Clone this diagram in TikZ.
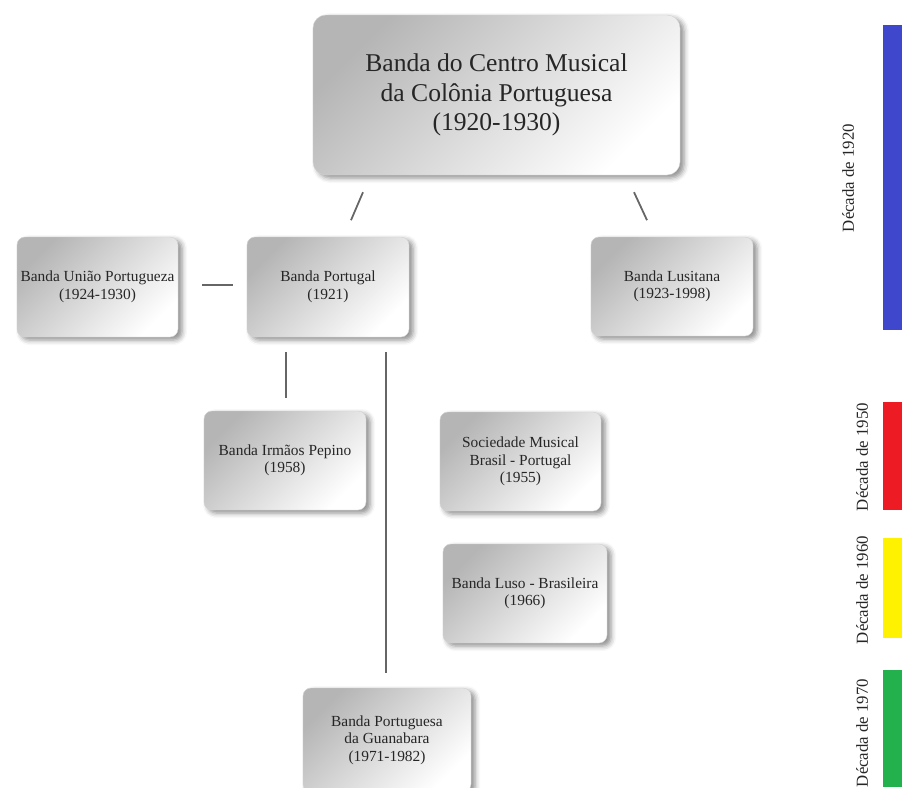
\documentclass[tikz,border=0pt]{standalone}
\usepackage{fontspec}
\setmainfont{Liberation Serif}
\usetikzlibrary{positioning, calc, shadows.blur}
\definecolor{barazul}{HTML}{3F48CC}
\definecolor{barvermelho}{HTML}{ED1C24}
\definecolor{baramarelo}{HTML}{FFF200}
\definecolor{barverde}{HTML}{22B14C}
\tikzset{x=1pt,y=-1pt,
banda/.style={draw=gray!35, rounded corners=8pt, top color=gray!58, bottom color=white, shading angle=45,
  minimum width=162pt, minimum height=100pt, align=center, text=black!85,
  font=\fontsize{15.4}{17.5}\selectfont,
  blur shadow={shadow xshift=4pt, shadow yshift=-3pt, shadow blur radius=5pt, shadow opacity=45}},
ligacao/.style={draw=black!60, line width=1.8pt},
decada/.style={rotate=90, font=\fontsize{16.8}{18}\selectfont, text=black!85}}

\begin{document}
\begin{tikzpicture}
\useasboundingbox (0,0) rectangle (902,787);
\node[banda, minimum width=367pt, minimum height=160pt, rounded corners=13pt, font=\fontsize{25.6}{29.5}\selectfont] (centro) at (496.5,95) {Banda do Centro Musical\\da Colônia Portuguesa\\(1920-1930)};
\node[banda, minimum width=161pt] (uniao) at (97.5,287) {Banda União Portugueza\\(1924-1930)};
\node[banda] (portugal) at (328,287) {Banda Portugal\\(1921)};
\node[banda, minimum height=99pt] (lusitana) at (672,286.5) {Banda Lusitana\\(1923-1998)};
\node[banda, minimum height=99pt] (pepino) at (285,460.5) {Banda Irmãos Pepino\\(1958)};
\node[banda, minimum width=161pt, minimum height=99pt] (sociedade) at (520.5,461.5) {Sociedade Musical\\Brasil - Portugal\\(1955)};
\node[banda, minimum width=164pt, minimum height=99pt] (luso) at (525,593.5) {Banda Luso - Brasileira\\(1966)};
\node[banda, minimum width=168pt, minimum height=104pt] (guanabara) at (387,740) {Banda Portuguesa\\da Guanabara\\(1971-1982)};
% ligacoes soltas entre as caixas
\coordinate (c1) at ($(centro.south)+(-133.5,17)$);
\coordinate (c2) at ($(centro.south)+(-145.5,45)$);
\coordinate (c3) at ($(centro.south)+(137.5,17)$);
\coordinate (c4) at ($(centro.south)+(150.5,45)$);
\coordinate (p1) at ($(portugal.south)+(-42,15)$);
\coordinate (p2) at ($(pepino.north)+(1,-13)$);
\coordinate (p3) at ($(portugal.south)+(58,15)$);
\coordinate (p4) at ($(guanabara.north)+(-1,-15)$);
\draw[ligacao] (c1) -- (c2);
\draw[ligacao] (c3) -- (c4);
\draw[ligacao] ($(uniao.east)+(24,-2)$) -- ($(portugal.west)+(-14,-2)$);
\draw[ligacao] (p1) -- (p2);
\draw[ligacao] (p3) -- (p4);
% barras das decadas
\fill[barazul] (883,25) rectangle (902,330);
\fill[barvermelho] (883,402) rectangle (902,510);
\fill[baramarelo] (883,538) rectangle (902,638);
\fill[barverde] (883,670) rectangle (902,787);
\node[decada] (d1920) at (848,178) {Década de 1920};
\node[decada] (d1950) at (862,457) {Década de 1950};
\node[decada] (d1960) at (862,590) {Década de 1960};
\node[decada] (d1970) at (862,733) {Década de 1970};
\end{tikzpicture}
\end{document}
